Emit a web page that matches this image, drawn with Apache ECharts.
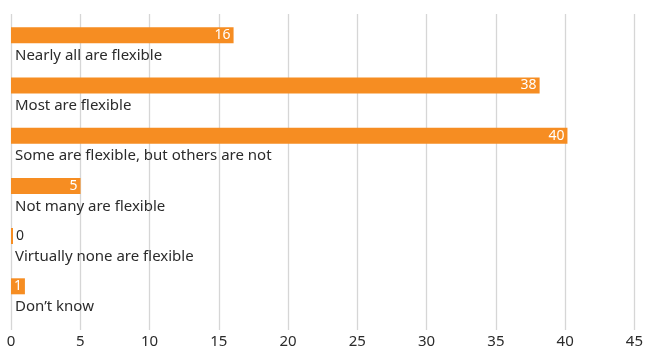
<!DOCTYPE html>
<html>
<head>
<meta charset="utf-8">
<script src="https://cdn.jsdelivr.net/npm/echarts@6/dist/echarts.min.js"></script>
<style>
  html, body { margin: 0; padding: 0; background: #ffffff; }
  #chart { width: 646px; height: 351px; }
</style>
</head>
<body>
<div id="chart"></div>
<script>
// Share of responses (%) by how flexible the options are
const categories = [
  'Nearly all are flexible',
  'Most are flexible',
  'Some are flexible, but others are not',
  'Not many are flexible',
  'Virtually none are flexible',
  'Don\u2019t know'
];
const values = [16, 38, 40, 5, 0, 1];
const xTicks = [0, 5, 10, 15, 20, 25, 30, 35, 40, 45];

const FONT = 'Noto Sans';
const ORANGE = '#f68d22';
const TEXT = '#2b2b2b';

const chart = echarts.init(document.getElementById('chart'), null, { renderer: 'canvas' });

const barData = values.map(v => ({
  value: v,
  label: v === 0
    ? { position: 'right', color: TEXT, distance: 3 }
    : { position: 'insideRight', color: '#ffffff', distance: 3 }
}));

chart.setOption({
  animation: false,
  backgroundColor: '#ffffff',
  textStyle: { fontFamily: FONT },
  grid: [
    // axis + vertical gridlines
    { left: 11, right: 9, top: 14, bottom: 21, containLabel: false },
    // bars
    { left: 11, right: 9, top: 10.2, height: 301.2, containLabel: false }
  ],
  xAxis: [
    {
      gridIndex: 0, type: 'value', min: xTicks[0], max: xTicks[xTicks.length - 1],
      interval: xTicks[1] - xTicks[0],
      axisLine: { show: false }, axisTick: { show: false },
      splitLine: { show: true, lineStyle: { color: '#d6d6d6', width: 1.3 } },
      axisLabel: { color: TEXT, fontSize: 15, fontFamily: FONT, margin: 4 }
    },
    {
      gridIndex: 1, type: 'value', min: xTicks[0], max: xTicks[xTicks.length - 1],
      show: false
    }
  ],
  yAxis: [
    {
      gridIndex: 0, type: 'value', show: false
    },
    {
      gridIndex: 1, type: 'category', data: categories, inverse: true,
      axisLine: { show: false }, axisTick: { show: false }, splitLine: { show: false },
      axisLabel: {
        inside: true, align: 'left', verticalAlign: 'top', margin: 4,
        padding: [13, 0, 0, 0],
        color: TEXT, fontSize: 15, fontFamily: FONT
      }
    }
  ],
  series: [
    {
      type: 'bar', xAxisIndex: 1, yAxisIndex: 1,
      data: barData,
      barWidth: 16, barMinHeight: 2,
      itemStyle: { color: ORANGE },
      label: { show: true, fontSize: 14, fontFamily: FONT },
      z: 3
    }
  ]
});
</script>
</body>
</html>
